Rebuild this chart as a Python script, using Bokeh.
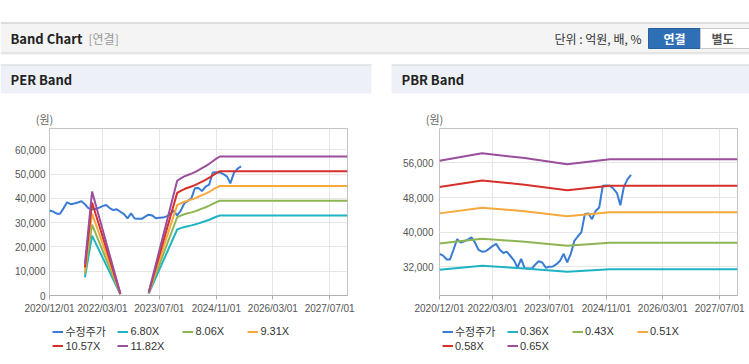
import numpy as np
import pandas as pd
from bokeh.plotting import figure
from bokeh.models import (Range1d, FixedTicker, NumeralTickFormatter, DatetimeTickFormatter,
                          Legend, LegendItem, ColumnDataSource, Spacer)
from bokeh.layouts import column, row
from bokeh.core.properties import value
from bokeh.embed import file_html
from bokeh.resources import INLINE

# ---------------- data ----------------
price_start = "2020-12-01"
price = [35000, 34600, 33700, 33700, 36000, 38400, 37600, 37900, 38300, 38800,
         37600, 35900, 35500, 35600, 36200, 36800, 37300, 36000, 35200, 35500,
         34500, 33500, 31800, 33850, 31700, 31600, 31600, 32500, 33300, 33000,
         31800, 32000, 32100, 32600, 33400, 35000, 33000, 35000, 38000, 39000,
         40000, 44200, 44300, 43000, 44900, 45700, 50700, 50750, 50700, 50000,
         49000, 46200, 50500, 52200, 53200]

eps_dates = ["2021-10-01", "2021-12-01", "2022-08-01", "2022-09-01", "2023-04-01",
             "2023-12-01", "2024-01-01", "2024-02-01", "2024-03-01", "2024-04-01",
             "2024-05-01", "2024-06-01", "2024-07-01", "2024-08-01", "2024-09-01",
             "2024-10-01", "2024-11-01", "2024-12-01", "2027-12-01"]
eps = [1100, 3624, 65, None, 115,
       4000, 4080, 4150, 4200, 4250,
       4300, 4370, 4440, 4510, 4590,
       4680, 4770, 4845, 4845]
per_multiples = [6.80, 8.06, 9.31, 10.57, 11.82]

bps_dates = ["2020-12-01", "2021-12-01", "2022-12-01", "2023-12-01", "2024-12-01", "2027-12-01"]
bps = [86940, 89530, 87880, 85670, 87400, 87400]
pbr_multiples = [0.36, 0.43, 0.51, 0.58, 0.65]

x_tick_labels = ["2020/12/01", "2022/03/01", "2023/07/01", "2024/11/01", "2026/03/01", "2027/07/01"]
x_start, x_end = "2020-12-01", "2027-12-01"
per_y_ticks = [0, 10000, 20000, 30000, 40000, 50000, 60000]
pbr_y_ticks = [32000, 40000, 48000, 56000]

price_label = "수정주가"
band_colors = ["#1fb3c4", "#8db554", "#f5a93d", "#d6302b", "#9a4e9b"]
price_color = "#3a7bd5"

FONT = "Noto Sans CJK KR"
NUMFONT = "Liberation Sans"
LEGFONT = "Liberation Sans, Noto Sans CJK KR"

price_dates = pd.date_range(price_start, periods=len(price), freq="MS")
x_ticks = [pd.Timestamp(pd.to_datetime(s, format="%Y/%m/%d")).value // 10**6 for s in x_tick_labels]


def make_chart(width, ml, mr, y_range, y_ticks, base_dates, base, multiples, label_standoff, leg_x):
    p = figure(width=width, height=192, x_axis_type="datetime",
               x_range=Range1d(pd.Timestamp(x_start), pd.Timestamp(x_end)),
               y_range=y_range, output_backend="svg", toolbar_location=None,
               min_border_left=ml, min_border_right=mr, min_border_top=2, min_border_bottom=23)
    p.background_fill_color = "white"
    p.border_fill_color = "white"
    p.outline_line_color = "#c4c4c4"

    xa = p.xaxis[0]
    xa.ticker = FixedTicker(ticks=x_ticks)
    fmt = "%Y/%m/%d"
    xa.formatter = DatetimeTickFormatter(days=fmt, months=fmt, years=fmt, hours=fmt,
                                         minutes=fmt, seconds=fmt, milliseconds=fmt,
                                         microseconds=fmt, minsec=fmt, hourmin=fmt)
    xa.axis_line_color = "#b0b0b0"
    xa.major_tick_line_color = "#b0b0b0"
    xa.major_tick_out = 4
    xa.major_tick_in = 0
    xa.minor_tick_out = 0
    xa.minor_tick_in = 0
    xa.major_label_standoff = 3
    xa.major_label_text_font = NUMFONT
    xa.major_label_text_font_size = "10px"
    xa.major_label_text_color = "#555555"

    ya = p.yaxis[0]
    ya.ticker = FixedTicker(ticks=y_ticks)
    ya.formatter = NumeralTickFormatter(format="0,0")
    ya.axis_line_color = None
    ya.major_tick_line_color = None
    ya.minor_tick_line_color = None
    ya.major_tick_out = 0
    ya.major_tick_in = 0
    ya.minor_tick_out = 0
    ya.major_label_standoff = label_standoff
    ya.major_label_text_font = NUMFONT
    ya.major_label_text_font_size = "10px"
    ya.major_label_text_color = "#555555"

    p.xgrid.grid_line_color = "#e6e6e6"
    p.ygrid.grid_line_color = "#e6e6e6"

    # legend lives in its own small figure under the chart (same sources, hidden copies)
    lf = figure(width=width, height=43, x_range=Range1d(0, 1), y_range=Range1d(0, 1),
                output_backend="svg", toolbar_location=None, min_border=0,
                x_axis_type=None, y_axis_type=None)
    lf.outline_line_color = None
    lf.background_fill_color = "white"
    lf.border_fill_color = "white"

    items = []
    src = ColumnDataSource(dict(date=price_dates, price=price))
    p.line("date", "price", source=src, line_color=price_color, line_width=2)
    rl = lf.line("date", "price", source=src, line_color=price_color, line_width=2, visible=False)
    items.append(LegendItem(label=price_label, renderers=[rl]))

    bdates = pd.to_datetime(base_dates)
    barr = np.array([np.nan if v is None else v for v in base], dtype=float)
    for m, c in zip(multiples, band_colors):
        s = ColumnDataSource(dict(date=bdates, v=barr * m))
        p.line("date", "v", source=s, line_color=c, line_width=2)
        rb = lf.line("date", "v", source=s, line_color=c, line_width=2, visible=False)
        items.append(LegendItem(label=f"{m:.2f}X", renderers=[rb]))

    leg = Legend(items=items, location=(leg_x, 9), orientation="horizontal", ncols=4,
                 glyph_width=11, glyph_height=13, label_height=13, label_width=52,
                 label_standoff=2, spacing=0, padding=0, margin=0,
                 label_text_font=LEGFONT, label_text_font_size="11px", label_text_color="#333333",
                 label_text_line_height=1.0,
                 background_fill_alpha=0, border_line_alpha=0, inactive_fill_alpha=0)
    lf.add_layout(leg)
    return column(p, lf)


per = make_chart(371, 49, 24, Range1d(0, 68800), per_y_ticks, eps_dates, eps, per_multiples, 4, 3.4)
pbr = make_chart(358, 48, 12, Range1d(25380, 63930), pbr_y_ticks, bps_dates, bps, pbr_multiples, 6, 3.0)

# ---------------- page decoration ----------------
top = figure(width=749, height=126, x_range=Range1d(0, 749), y_range=Range1d(126, 0),
             output_backend="svg", toolbar_location=None, min_border=0,
             x_axis_type=None, y_axis_type=None)
top.outline_line_color = None
top.background_fill_color = "white"
top.border_fill_color = "white"

# header bar
top.quad(left=[0], right=[749], top=[22], bottom=[52], fill_color="#f4f4f4", line_color=None)
top.segment(x0=[0], y0=[22.5], x1=[749], y1=[22.5], line_color="#c4c4c4", line_width=1)
top.segment(x0=[0], y0=[52.5], x1=[749], y1=[52.5], line_color="#cdcdcd", line_width=1)
top.segment(x0=[0], y0=[53.5], x1=[749], y1=[53.5], line_color="#e8e8e8", line_width=1)
# panel headers
for l, r in [(0, 371), (391, 749)]:
    top.quad(left=[l], right=[r], top=[64], bottom=[93], fill_color="#edf1f7", line_color=None)
    top.segment(x0=[l], y0=[64.5], x1=[r], y1=[64.5], line_color="#d6d6d6", line_width=1)
# buttons
top.quad(left=[648], right=[700], top=[28], bottom=[48], fill_color="#2f6fb6", line_color="#28609f")
top.quad(left=[700], right=[749], top=[28], bottom=[48], fill_color="#ffffff", line_color="#c8c8c8")

txt = dict(text_font=value(FONT), text_baseline="middle")
top.text(x=[10], y=[38], text=["Band Chart"], text_font_style="bold", text_font_size="13px",
         text_color="#222222", text_align="left", **txt)
top.text(x=[88], y=[38], text=["[연결]"], text_font_size="12px", text_color="#999999",
         text_align="left", **txt)
top.text(x=[641], y=[38], text=["단위 : 억원, 배, %"], text_font_size="12px", text_color="#333333",
         text_align="right", **txt)
top.text(x=[674], y=[38], text=["연결"], text_font_style="bold", text_font_size="12px",
         text_color="#ffffff", text_align="center", **txt)
top.text(x=[722], y=[38], text=["별도"], text_font_style="bold", text_font_size="12px",
         text_color="#555555", text_align="center", **txt)
top.text(x=[10, 401], y=[79, 79], text=["PER Band", "PBR Band"], text_font_style="bold",
         text_font_size="13px", text_color="#222222", text_align="left", **txt)
top.text(x=[44, 434], y=[118, 118], text=["(원)", "(원)"], text_font_size="11px",
         text_color="#666666", text_align="center", **txt)

bottom = figure(width=749, height=3, x_range=Range1d(0, 749), y_range=Range1d(3, 0),
                output_backend="svg", toolbar_location=None, min_border=0,
                x_axis_type=None, y_axis_type=None)
bottom.outline_line_color = None
bottom.background_fill_color = "white"
bottom.border_fill_color = "white"
bottom.segment(x0=[0, 391], y0=[1.5, 1.5], x1=[371, 749], y1=[1.5, 1.5],
               line_color="#d0d0d0", line_width=1)

root = column(top, row(per, Spacer(width=20, height=235), pbr), bottom)

open("out.html", "w").write(file_html(root, INLINE))
